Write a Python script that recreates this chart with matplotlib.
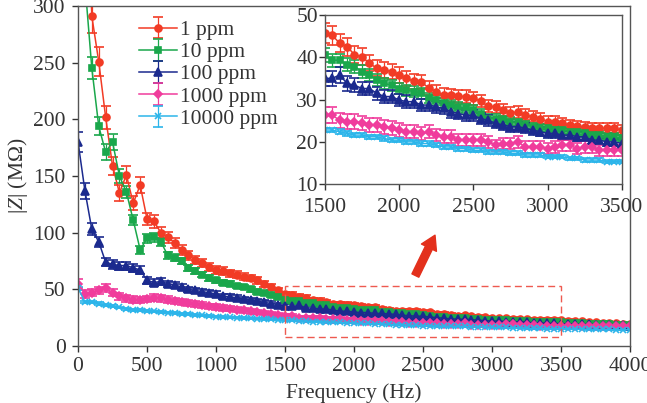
import numpy as np
import matplotlib
matplotlib.use("Agg")
import matplotlib.pyplot as plt
from matplotlib.patches import Rectangle

plt.rcParams["font.family"] = ["Liberation Serif", "DejaVu Serif"]
plt.rcParams["mathtext.fontset"] = "custom"
plt.rcParams["mathtext.it"] = "Liberation Serif:italic"
plt.rcParams["mathtext.rm"] = "Liberation Serif"

# frequency grid (Hz), 50 Hz steps
freq = np.arange(0, 4001, 50)

z_1ppm = [600, 450, 291, 251, 202, 159, 135, 151, 126, 142, 112, 110, 100, 96, 91, 85, 80, 76, 73, 70,
          67, 66, 64, 63, 61, 60, 58, 55, 52, 49,
          45.7, 45.2, 43.3, 42.5, 40.6, 40.1, 38.6, 37.4, 37.0, 36.6, 35.8, 35.0, 34.3, 34.2, 32.7,
          31.9, 31.1, 31.0, 30.8, 30.7, 30.3, 29.6, 28.4, 28.3, 27.6, 26.8, 27.1, 26.4, 25.9, 25.5,
          24.8, 24.8, 24.4, 24.0, 23.7, 23.6, 23.3, 23.2, 23.2, 23.2, 22.8,
          22.4, 22.0, 21.7, 21.3, 21.0, 20.6, 20.3, 20.0, 19.6, 19.3]
z_10ppm = [450, 320, 245, 194, 171, 180, 150, 136, 111, 85, 95, 96, 92, 80, 78, 75, 69, 66, 63, 60,
           58, 56, 55, 53, 52, 50, 48, 46.5, 45, 43,
           40.5, 39.3, 39.3, 38.2, 37.8, 36.6, 35.8, 34.6, 33.8, 33.4, 32.6, 32.2, 31.9, 31.5, 30.3,
           29.9, 29.1, 28.7, 28.3, 27.9, 27.5, 26.7, 25.5, 25.5, 25.1, 24.8, 24.4, 24.0, 23.6, 23.2,
           23.2, 22.8, 22.8, 22.4, 22.4, 22.0, 21.6, 21.6, 21.2, 21.2, 20.8,
           20.5, 20.2, 20.0, 19.7, 19.5, 19.2, 19.0, 18.8, 18.6, 18.4]
z_100ppm = [180, 137, 103, 92, 74, 72, 71, 71, 69, 67, 58, 56, 57, 55, 54, 52, 50, 49, 48, 47,
            46, 44, 43.5, 42.5, 41.5, 40.5, 39.5, 38.5, 37.5, 36.5,
            35.0, 35.0, 35.8, 33.8, 33.4, 32.6, 32.6, 31.5, 30.7, 30.7, 29.9, 29.5, 29.5, 28.7, 28.7,
            28.3, 27.9, 27.1, 26.7, 26.3, 26.3, 25.5, 25.1, 24.4, 24.0, 23.6, 23.6, 23.2, 22.8, 22.4,
            22.0, 22.0, 21.6, 21.6, 21.2, 21.2, 20.4, 20.4, 20.0, 20.0, 19.6,
            19.5, 19.3, 19.2, 19.0, 18.9, 18.7, 18.6, 18.4, 18.3, 18.1]
z_1000ppm = [55, 46, 47, 49, 51, 47, 44, 42, 41, 40.5, 41.5, 42.5, 42, 41, 40, 39, 38, 37, 36, 35,
             34.5, 33.5, 33, 32, 31.5, 30.5, 30, 29, 28, 27,
             26.3, 26.3, 25.1, 24.8, 24.8, 24.4, 24.0, 24.0, 23.6, 23.2, 22.8, 22.4, 22.4, 22.0, 22.4,
             21.6, 21.2, 21.2, 20.4, 20.4, 20.4, 20.4, 20.0, 19.2, 19.6, 19.6, 20.0, 18.8, 18.8, 18.8,
             18.4, 18.8, 19.2, 19.2, 18.4, 18.8, 18.8, 18.0, 18.0, 18.0, 18.0,
             17.9, 17.8, 17.8, 17.7, 17.6, 17.6, 17.5, 17.4, 17.4, 17.3]
z_10000ppm = [51, 39, 38.5, 37.5, 36, 35, 34, 33, 32, 31.5, 31, 30.5, 30, 29.5, 29, 28.5, 28, 27.5, 27, 26.5,
              26, 25.5, 25.3, 25, 24.7, 24.3, 24, 23.7, 23.4, 23.1,
              22.8, 22.8, 22.4, 22.0, 21.6, 21.6, 21.2, 21.2, 20.8, 20.4, 20.4, 20.0, 20.0, 19.6, 19.6,
              19.2, 18.8, 18.8, 18.4, 18.4, 18.0, 18.0, 17.6, 17.6, 17.6, 17.3, 17.3, 16.9, 16.9, 16.9,
              16.5, 16.5, 16.5, 16.1, 16.1, 15.7, 15.7, 15.7, 15.3, 15.3, 15.3,
              15.2, 15.1, 15.0, 14.9, 14.8, 14.7, 14.6, 14.5, 14.4, 14.3]

labels = ["1 ppm", "10 ppm", "100 ppm", "1000 ppm", "10000 ppm"]
series = [z_1ppm, z_10ppm, z_100ppm, z_1000ppm, z_10000ppm]
rel_err = [0.05, 0.04, 0.05, 0.07, 0.025]

colors = ["#f23b25", "#1aa74b", "#1b2a8e", "#f03c9c", "#2cb5ea"]
markers = ["o", "s", "^", "D", "x"]
msizes = [5, 4.6, 5.2, 4.2, 5]

FS = 15.5

fig = plt.figure(figsize=(6.47, 4.03), dpi=100)
ax = fig.add_axes([0.1206, 0.1414, 0.8534, 0.8436])


def draw(a):
    for y, lab, c, m, ms, e in zip(series, labels, colors, markers, msizes, rel_err):
        y = np.array(y, dtype=float)
        a.errorbar(freq, y, yerr=y * e, color=c, marker=m, ms=ms, lw=1.1,
                   elinewidth=0.9, capsize=3.5, capthick=0.9, label=lab,
                   mec=c, mfc=c, mew=1.2)


def style(a, xpad, ypad):
    a.tick_params(direction="out", length=4, width=1, labelsize=FS, colors="#333333",
                  top=False, right=False)
    a.tick_params(axis="x", pad=xpad)
    a.tick_params(axis="y", pad=ypad)
    for s in a.spines.values():
        s.set_color("#555555")
        s.set_linewidth(1.0)


draw(ax)
ax.set_xlim(0, 4000)
ax.set_ylim(0, 300)
ax.set_xticks(range(0, 4001, 500))
ax.set_yticks(range(0, 301, 50))
style(ax, 4, 5)
ax.set_xlabel("Frequency (Hz)", fontsize=FS, color="#333333", labelpad=5)
ax.set_ylabel("|$Z$| (M\u03a9)", fontsize=FS, color="#333333", labelpad=2)

# highlight region + arrow
ax.add_patch(Rectangle((1500, 8), 2000, 45, fill=False, ls=(0, (5, 3)),
                       ec="#ee5a50", lw=1.0, zorder=5))
ax.annotate("", xy=(2595, 100), xytext=(2435, 60),
            arrowprops=dict(arrowstyle="simple,head_width=1.2,head_length=1.0,tail_width=0.55",
                            fc="#e3301c", ec="#e3301c"))

leg = ax.legend(loc="upper left", bbox_to_anchor=(0.087, 0.997), frameon=False,
                fontsize=FS, handlelength=1.75, handletextpad=0.15, labelspacing=0.1,
                borderaxespad=0.2)
for t in leg.get_texts():
    t.set_color("#333333")

# inset
ins = fig.add_axes([0.502, 0.543, 0.459, 0.42])
draw(ins)
ins.set_xlim(1500, 3500)
ins.set_ylim(10, 50)
ins.set_xticks(range(1500, 3501, 500))
ins.set_yticks(range(10, 51, 10))
style(ins, 6, 1)

fig.savefig("out.png", dpi=100)
